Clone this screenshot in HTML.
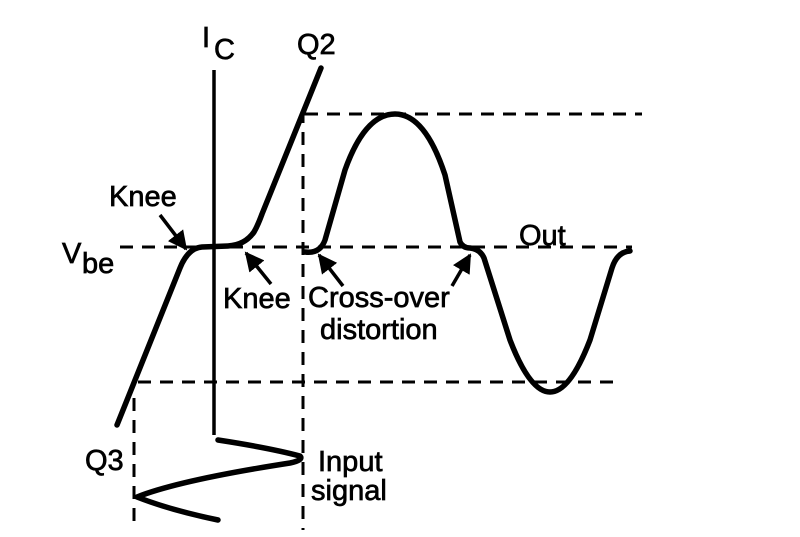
<!DOCTYPE html>
<html><head><style>
body{margin:0;background:#fff;}
svg{display:block;}
text{font-family:"Liberation Sans",Arial,sans-serif;fill:#000;font-size:29px;stroke:#000;stroke-width:0.7;}
</style></head><body>
<svg width="800" height="537" viewBox="0 0 800 537" xmlns="http://www.w3.org/2000/svg">
<defs><marker id="a" viewBox="0 0 10 10" refX="9" refY="5" markerWidth="5.5" markerHeight="5.5" orient="auto"><path d="M0,0 L10,5 L0,10 z" fill="#000"/></marker></defs>
<g stroke="#000" stroke-width="3" stroke-dasharray="13,9" fill="none">
<line x1="120" y1="247" x2="632" y2="247"/>
<line x1="305" y1="114" x2="642" y2="114"/>
<line x1="138" y1="382" x2="622" y2="382"/>
<line x1="303" y1="110" x2="303" y2="530"/>
<line x1="134" y1="398" x2="134" y2="530"/>
</g>
<line x1="214" y1="70" x2="214" y2="435" stroke="#000" stroke-width="3.5"/>
<g stroke="#000" stroke-width="5.5" fill="none" stroke-linecap="round" stroke-linejoin="round">
<path d="M117,425 L180,268 Q188,248 202,247 L228,246 Q245,245 254,232 Q258,225 262,214 L321,68"/>
<path d="M218,440 Q270,448 300,456 Q304,460 290,463 Q180,480 137,497 Q170,510 218,520"/>
<path d="M305,252 Q320,254 325,240 L345,170 Q365,114 395,114 Q425,114 445,175 L460,242 Q463,248 470,248 Q480,249 484,258 L510,340 Q530,392 550,392 Q570,392 590,340 L612,268 Q617,252 630,251"/>
</g>
<g stroke="#000" stroke-width="3.5" marker-end="url(#a)">
<line x1="160" y1="215" x2="186" y2="249"/>
<line x1="271" y1="284" x2="246" y2="253"/>
<line x1="343" y1="286" x2="319" y2="255"/>
<line x1="452" y1="286" x2="470" y2="255"/>
</g>
<text x="202" y="47">I</text>
<text x="214" y="59" font-size="26">C</text>
<text x="297" y="54">Q2</text>
<text x="109" y="206">Knee</text>
<text x="62" y="263">V</text>
<text x="82" y="273" font-size="26">be</text>
<text x="223" y="308">Knee</text>
<text x="308" y="307">Cross-over</text>
<text x="320" y="339">distortion</text>
<text x="519" y="245">Out</text>
<text x="85" y="470">Q3</text>
<text x="318" y="471">Input</text>
<text x="311" y="500">signal</text>
</svg>
</body></html>
